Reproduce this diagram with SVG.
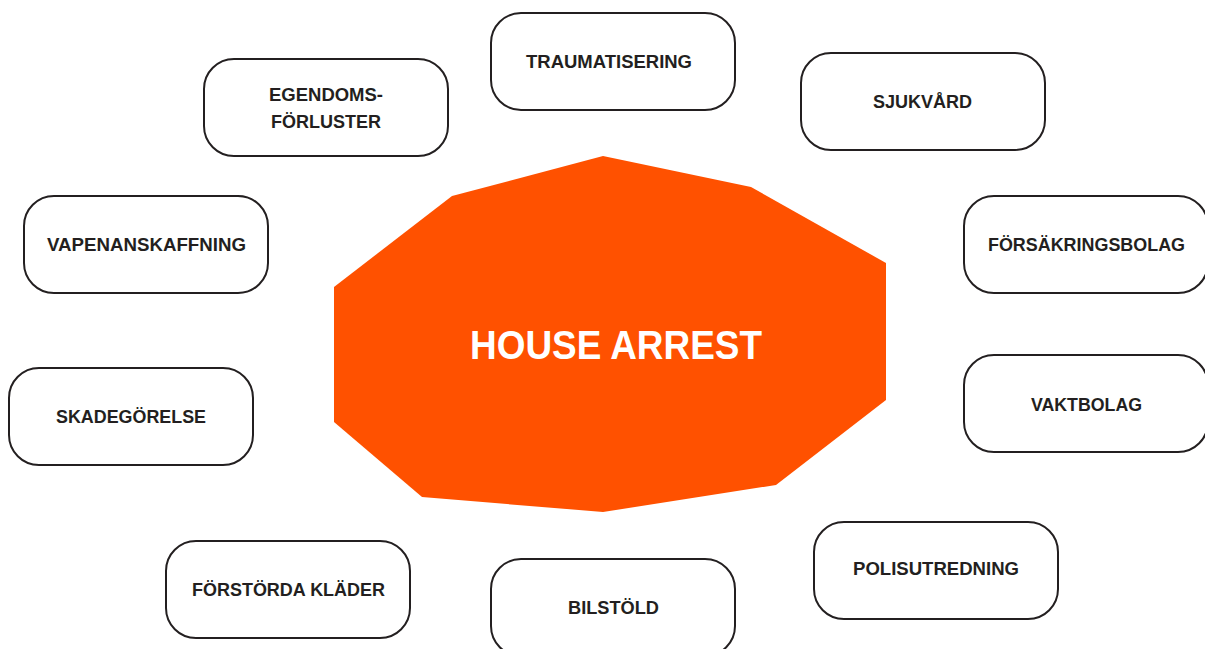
<svg xmlns="http://www.w3.org/2000/svg" width="1205" height="649" viewBox="0 0 1205 649">
<style>
.box{fill:#fff;stroke:#231f20;stroke-width:2}
.lbl{font-family:"Liberation Sans",Arial,sans-serif;font-weight:bold;font-size:18px;fill:#231f20;text-anchor:middle}
.hub{font-family:"Liberation Sans",Arial,sans-serif;font-weight:bold;font-size:40px;fill:#fff;text-anchor:middle}
</style>
<rect width="1205" height="649" fill="#fff"/>
<g id="connectors"></g>
<g id="house-arrest">
<polygon points="603,156 751,187 886,263 886,400 776,485 603,512 422,497 334,422 334,287 452,196" fill="#ff5100"/>
<text class="hub" x="616" y="359" textLength="292" lengthAdjust="spacingAndGlyphs">HOUSE ARREST</text>
</g>
<g id="traumatisering">
<rect class="box" x="491" y="13" width="244" height="97" rx="30"/>
<text class="lbl" x="609" y="68" textLength="166" lengthAdjust="spacingAndGlyphs">TRAUMATISERING</text>
</g>
<g id="sjukvard">
<rect class="box" x="801" y="53" width="244" height="97" rx="30"/>
<text class="lbl" x="922.5" y="108" textLength="99" lengthAdjust="spacingAndGlyphs">SJUKVÅRD</text>
</g>
<g id="egendomsforluster">
<rect class="box" x="204" y="59" width="244" height="97" rx="30"/>
<text class="lbl" x="326" y="100.5" textLength="114" lengthAdjust="spacingAndGlyphs">EGENDOMS-</text>
<text class="lbl" x="326" y="127.5" textLength="110" lengthAdjust="spacingAndGlyphs">FÖRLUSTER</text>
</g>
<g id="vapenanskaffning">
<rect class="box" x="24" y="196" width="244" height="97" rx="30"/>
<text class="lbl" x="146.5" y="251" textLength="199" lengthAdjust="spacingAndGlyphs">VAPENANSKAFFNING</text>
</g>
<g id="forsakringsbolag">
<rect class="box" x="964" y="196" width="244" height="97" rx="30"/>
<text class="lbl" x="1086.5" y="251" textLength="197" lengthAdjust="spacingAndGlyphs">FÖRSÄKRINGSBOLAG</text>
</g>
<g id="vaktbolag">
<rect class="box" x="964" y="355" width="244" height="97" rx="30"/>
<text class="lbl" x="1086.5" y="411" textLength="111" lengthAdjust="spacingAndGlyphs">VAKTBOLAG</text>
</g>
<g id="skadegorelse">
<rect class="box" x="9" y="368" width="244" height="97" rx="30"/>
<text class="lbl" x="131" y="423" textLength="150" lengthAdjust="spacingAndGlyphs">SKADEGÖRELSE</text>
</g>
<g id="forstorda-klader">
<rect class="box" x="166" y="541" width="244" height="97" rx="30"/>
<text class="lbl" x="288.5" y="596" textLength="193" lengthAdjust="spacingAndGlyphs">FÖRSTÖRDA KLÄDER</text>
</g>
<g id="bilstold">
<rect class="box" x="491" y="559" width="244" height="97" rx="30"/>
<text class="lbl" x="613.5" y="614" textLength="91" lengthAdjust="spacingAndGlyphs">BILSTÖLD</text>
</g>
<g id="polisutredning">
<rect class="box" x="814" y="522" width="244" height="97" rx="30"/>
<text class="lbl" x="936" y="575" textLength="166" lengthAdjust="spacingAndGlyphs">POLISUTREDNING</text>
</g>
</svg>
